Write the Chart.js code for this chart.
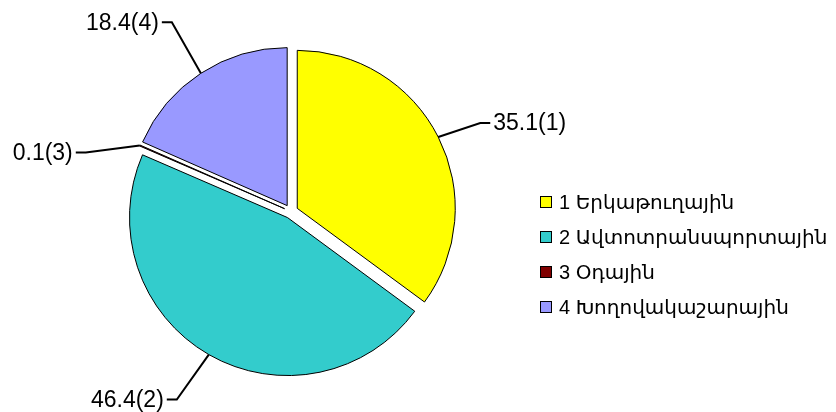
<!DOCTYPE html>
<html>
<head>
<meta charset="utf-8">
<script src="https://cdn.jsdelivr.net/npm/chart.js@4/dist/chart.umd.min.js"></script>
<style>
  html, body { margin: 0; padding: 0; background: #fff; }
  #wrap { width: 836px; height: 412px; position: relative; }
</style>
</head>
<body>
<div id="wrap"><canvas id="c" width="836" height="412"></canvas></div>
<script>
// ---- data ----
const categories = ["Երկաթուղային", "Ավտոտրանսպորտային", "Օդային", "Խողովակաշարային"];
const values = [35.1, 46.4, 0.1, 18.4];
const colors = ["#FFFF00", "#33CCCC", "#800000", "#9999FF"];

// ---- style / layout ----
const EXPLODE = 7;
const RADIUS = 158;
const LABEL_FONT = '23px "Liberation Sans", Arial, "DejaVu Sans", sans-serif';
const LEGEND_FONT = '20px "Liberation Sans", Arial, "DejaVu Sans", sans-serif';
// elbow offsets of leader lines relative to the slice's outer-edge anchor
const labelOffsets = [[42, -14], [-32, 45], [-54, 7], [-29, -51]];
const TAIL = 10;

const explodePlugin = {
  id: 'explode',
  afterDatasetUpdate(chart, args) {
    const meta = chart.getDatasetMeta(args.index);
    meta.data.forEach(arc => {
      const h = (arc.startAngle + arc.endAngle) / 2;
      arc.x += Math.cos(h) * EXPLODE;
      arc.y += Math.sin(h) * EXPLODE;
    });
  },
  afterDraw(chart) {
    const ctx = chart.ctx;
    const meta = chart.getDatasetMeta(0);
    ctx.save();
    // leader lines + labels
    ctx.font = LABEL_FONT;
    ctx.textBaseline = 'middle';
    meta.data.forEach((arc, i) => {
      const h = (arc.startAngle + arc.endAngle) / 2;
      const ax = arc.x + Math.cos(h) * arc.outerRadius;
      const ay = arc.y + Math.sin(h) * arc.outerRadius;
      const ex = ax + labelOffsets[i][0];
      const ey = ay + labelOffsets[i][1];
      const dir = labelOffsets[i][0] >= 0 ? 1 : -1;
      const tx = ex + dir * TAIL;
      ctx.beginPath();
      ctx.strokeStyle = '#000';
      ctx.lineWidth = 2;
      ctx.moveTo(ax, ay);
      ctx.lineTo(ex, ey);
      ctx.lineTo(tx, ey);
      ctx.stroke();
      ctx.fillStyle = '#000';
      ctx.textAlign = dir > 0 ? 'left' : 'right';
      ctx.fillText(values[i] + '(' + (i + 1) + ')', tx + dir * 3, ey + 1);
    });
    // legend
    ctx.font = LEGEND_FONT;
    ctx.textAlign = 'left';
    const lx = 540, ly0 = 202, step = 35, box = 12;
    categories.forEach((name, i) => {
      const y = ly0 + i * step;
      ctx.fillStyle = colors[i];
      ctx.fillRect(lx, y - box / 2, box, box);
      ctx.lineWidth = 1;
      ctx.strokeStyle = '#000';
      ctx.strokeRect(lx + 0.5, y - box / 2 + 0.5, box - 1, box - 1);
      ctx.fillStyle = '#000';
      ctx.fillText((i + 1) + ' ' + name, lx + box + 7, y + 1);
    });
    ctx.restore();
  }
};

new Chart(document.getElementById('c'), {
  type: 'pie',
  data: {
    labels: categories,
    datasets: [{
      data: values,
      backgroundColor: colors,
      borderColor: '#000',
      borderWidth: 1,
      borderJoinStyle: 'miter'
    }]
  },
  options: {
    responsive: false,
    animation: false,
    events: [],
    radius: RADIUS,
    layout: { padding: { left: 0, right: 254, top: 11, bottom: 0 } },
    plugins: {
      legend: { display: false },
      tooltip: { enabled: false }
    }
  },
  plugins: [explodePlugin]
});
</script>
</body>
</html>
